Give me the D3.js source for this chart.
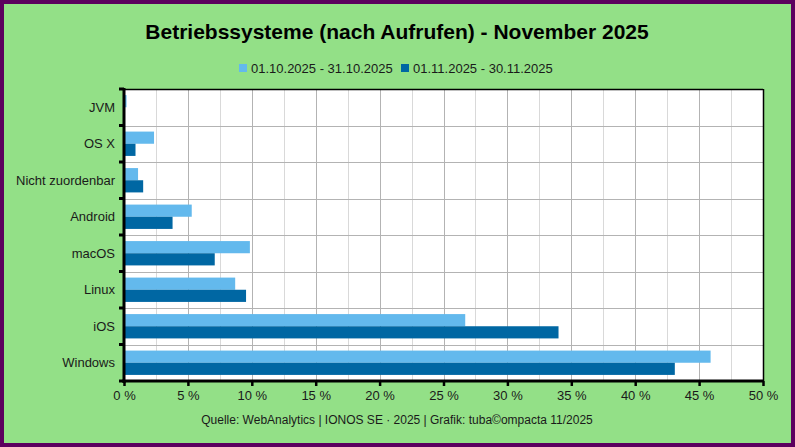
<!DOCTYPE html>
<html><head><meta charset="utf-8">
<script src="https://cdn.jsdelivr.net/npm/d3@7"></script>
<style>body{margin:0;padding:0;overflow:hidden}svg{display:block}</style>
</head><body>
<script>
const categories = ["JVM","OS X","Nicht zuordenbar","Android","macOS","Linux","iOS","Windows"];
const seriesNames = ["01.10.2025 - 31.10.2025","01.11.2025 - 30.11.2025"];
const octValues = [0.2, 2.35, 1.1, 5.3, 9.85, 8.7, 26.7, 45.9];
const novValues = [0.02, 0.9, 1.5, 3.8, 7.1, 9.55, 34.0, 43.1];
const xTicks = [0,5,10,15,20,25,30,35,40,45,50];
const colors = ["#63b9ed","#0067a3"];

const W=795,H=447;
const svg=d3.select("body").append("svg").attr("width",W).attr("height",H);
svg.append("rect").attr("width",W).attr("height",H).attr("fill","#5c005e");
svg.append("rect").attr("x",4).attr("y",4).attr("width",W-8).attr("height",H-8).attr("fill","#93e087");

const L=124,R=763,T=89,B=381;
const x=d3.scaleLinear().domain([0,50]).range([L,R]);
const y=d3.scaleBand().domain(categories).range([T,B]).paddingInner(0).paddingOuter(0);
const inner=d3.scaleBand().domain([0,1]).range([0,y.bandwidth()]).paddingOuter(0.5).paddingInner(0);

svg.append("rect").attr("x",L).attr("y",T).attr("width",R-L).attr("height",B-T).attr("fill","#fff");

// minor grid
const minor=d3.range(2.5,50,5);
svg.append("g").selectAll("line").data(minor).join("line")
 .attr("x1",d=>Math.round(x(d))+0.5).attr("x2",d=>Math.round(x(d))+0.5).attr("y1",T).attr("y2",B)
 .attr("stroke","#d9d9d9").attr("stroke-width",1);
svg.append("g").selectAll("line").data(xTicks.slice(1,-1)).join("line")
 .attr("x1",d=>Math.round(x(d))+0.5).attr("x2",d=>Math.round(x(d))+0.5).attr("y1",T).attr("y2",B)
 .attr("stroke","#b3b3b3").attr("stroke-width",1);
svg.append("g").selectAll("line").data(categories.slice(1)).join("line")
 .attr("x1",L).attr("x2",R).attr("y1",d=>Math.round(y(d))+0.5).attr("y2",d=>Math.round(y(d))+0.5)
 .attr("stroke","#b3b3b3").attr("stroke-width",1);

// bars
const data=categories.map((c,i)=>({c,vals:[octValues[i],novValues[i]]}));
const g=svg.append("g");
data.forEach(d=>{
  d.vals.forEach((v,k)=>{
    g.append("rect").attr("x",x(0)).attr("y",y(d.c)+inner(k)).attr("width",Math.max(0,x(v)-x(0))).attr("height",inner.bandwidth()).attr("fill",colors[k]);
  });
});

// frame
svg.append("line").attr("x1",L).attr("x2",R).attr("y1",T+0.5).attr("y2",T+0.5).attr("stroke","#000").attr("stroke-width",1.5);
svg.append("line").attr("x1",R+0.5).attr("x2",R+0.5).attr("y1",T).attr("y2",B).attr("stroke","#000").attr("stroke-width",1.5);

// y axis
const yAxis=svg.append("g").attr("transform",`translate(${L},0)`);
yAxis.append("line").attr("x1",0).attr("x2",0).attr("y1",T-1).attr("y2",B+2).attr("stroke","#000").attr("stroke-width",3);
const bounds=categories.map(c=>y(c)).concat([B]);
yAxis.selectAll("line.tk").data(bounds).join("line").attr("class","tk")
 .attr("x1",-5).attr("x2",0).attr("y1",d=>d).attr("y2",d=>d).attr("stroke","#000").attr("stroke-width",3);
yAxis.selectAll("text").data(categories).join("text")
 .attr("x",-9).attr("y",d=>y(d)+y.bandwidth()/2).attr("dy","0.35em").attr("text-anchor","end")
 .attr("font-family","Liberation Sans, Arial, sans-serif").attr("font-size",13).attr("fill","#1a1a1a").text(d=>d);

// x axis
const xa=svg.append("g").attr("transform",`translate(0,${B})`)
 .call(d3.axisBottom(x).tickValues(xTicks).tickFormat(d=>d+" %").tickSize(5).tickPadding(5));
xa.select(".domain").remove();
xa.selectAll(".tick line").attr("stroke","#000").attr("stroke-width",2.5);
xa.selectAll(".tick text").attr("font-family","Liberation Sans, Arial, sans-serif").attr("font-size",13).attr("fill","#1a1a1a");
svg.append("line").attr("x1",L-1.5).attr("x2",R+1).attr("y1",B).attr("y2",B).attr("stroke","#000").attr("stroke-width",3);

// title
svg.append("text").attr("x",397).attr("y",39).attr("text-anchor","middle")
 .attr("font-family","Liberation Sans, Arial, sans-serif").attr("font-weight","bold").attr("font-size",21).attr("fill","#000")
 .text("Betriebssysteme (nach Aufrufen) - November 2025");

// legend
const lg=svg.append("g").attr("font-family","Liberation Sans, Arial, sans-serif").attr("font-size",13).attr("fill","#1a1a1a");
const lx=[239,401];
seriesNames.forEach((n,i)=>{
  lg.append("rect").attr("x",lx[i]).attr("y",64).attr("width",8).attr("height",8).attr("fill",colors[i]);
  lg.append("text").attr("x",lx[i]+12).attr("y",73).text(n);
});

// footer
svg.append("text").attr("x",397).attr("y",424).attr("text-anchor","middle")
 .attr("font-family","Liberation Sans, Arial, sans-serif").attr("font-size",12).attr("fill","#1a1a1a")
 .text("Quelle: WebAnalytics | IONOS SE · 2025 | Grafik: tuba©ompacta 11/2025");
</script>
</body></html>
